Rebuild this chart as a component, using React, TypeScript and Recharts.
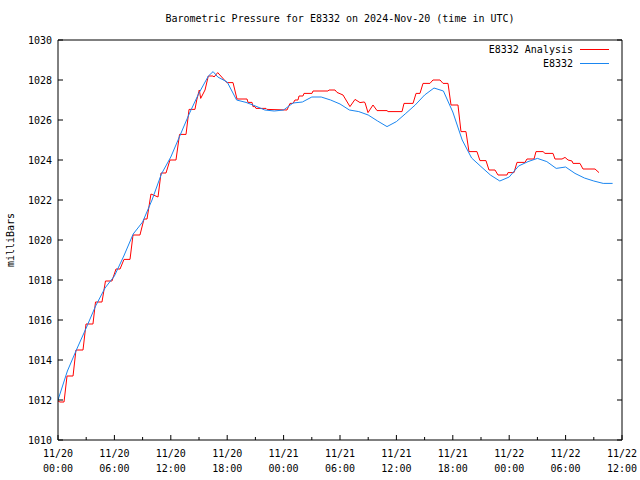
import { LineChart, Line, XAxis, YAxis, Legend, Label } from "recharts";

// hours since 2024-11-20 00:00 UTC
const analysisHours = [
  0, 0.21, 0.64, 0.96, 1.6, 1.91, 2.66, 2.98, 3.72, 3.99, 4.68, 5.05, 5.74, 6.17, 6.6, 7.02, 7.66, 7.98,
  8.72, 9.15, 9.47, 9.89, 10.64, 10.96, 11.49, 11.91, 12.55, 12.93, 13.62, 13.94, 14.57, 14.76, 15.03,
  15.18, 15.64, 15.99, 16.49, 16.6, 16.99, 17.95, 18.62, 19.04, 20.11, 20.21, 20.64, 20.74, 20.96, 21.06,
  22.13, 22.23, 24.36, 24.68, 25.0, 25.21, 25.53, 25.64, 26.06, 26.17, 27.02, 27.13, 28.72, 28.83, 29.47,
  29.68, 30.32, 31.06, 31.6, 32.13, 32.55, 32.66, 32.98, 33.51, 33.94, 35.0, 35.11, 36.6, 36.81, 37.77,
  38.09, 38.51, 38.83, 39.57, 39.89, 40.64, 40.96, 41.49, 41.81, 42.55, 42.87, 43.4, 43.72, 44.57, 44.89,
  45.53, 45.85, 46.49, 46.81, 47.77, 47.87, 48.51, 48.83, 49.68, 49.89, 50.64, 50.85, 51.6, 51.81, 52.66,
  52.87, 53.62, 53.94, 54.26, 54.68, 54.79, 55.53, 55.85, 56.81, 57.13, 57.55,
];
const analysisValues = [
  1011.95, 1011.9, 1011.9, 1013.2, 1013.2, 1014.5, 1014.5, 1015.8, 1015.8, 1016.9, 1016.9, 1017.95, 1017.95,
  1018.55, 1018.55, 1019.03, 1019.03, 1020.25, 1020.25, 1021.05, 1021.05, 1022.3, 1022.15, 1023.35, 1023.35,
  1024.0, 1024.0, 1025.28, 1025.28, 1026.53, 1026.53, 1027.0, 1027.5, 1027.08, 1027.5, 1028.2, 1028.2,
  1028.15, 1028.37, 1027.87, 1027.87, 1027.05, 1027.05, 1026.88, 1026.88, 1026.67, 1026.67, 1026.58,
  1026.58, 1026.53, 1026.5, 1026.83, 1026.83, 1027.0, 1027.0, 1027.2, 1027.2, 1027.33, 1027.33, 1027.45,
  1027.45, 1027.5, 1027.5, 1027.38, 1027.25, 1026.67, 1027.03, 1026.87, 1026.9, 1026.87, 1026.37, 1026.75,
  1026.47, 1026.47, 1026.42, 1026.42, 1026.83, 1026.83, 1027.33, 1027.33, 1027.83, 1027.83, 1028.0, 1028.0,
  1027.83, 1027.83, 1026.75, 1026.75, 1025.42, 1025.42, 1024.42, 1024.42, 1023.97, 1023.97, 1023.5, 1023.5,
  1023.25, 1023.25, 1023.37, 1023.37, 1023.88, 1023.88, 1024.05, 1024.05, 1024.42, 1024.42, 1024.33,
  1024.33, 1024.05, 1024.05, 1024.13, 1024.0, 1023.95, 1023.83, 1023.83, 1023.55, 1023.55, 1023.55, 1023.37,
];

const stationHours = [
  0, 1, 2, 3, 4, 5, 6, 7, 8, 9, 10, 11, 12, 13, 14, 15, 16, 16.5, 17, 18, 19, 20, 21, 22, 23, 24, 25, 26,
  27, 28, 29, 30, 31, 32, 33, 34, 35, 36, 37, 38, 39, 40, 41, 42, 43, 44, 45, 46, 47, 48, 49, 50, 51, 52,
  53, 54, 55, 56, 57, 58, 59,
];
const stationValues = [
  1012.0, 1013.45, 1014.55, 1015.6, 1016.7, 1017.6, 1018.2, 1019.2, 1020.3, 1020.9, 1022.0, 1023.3,
  1024.15, 1025.25, 1026.35, 1027.35, 1028.2, 1028.42, 1028.15, 1027.9, 1027.0, 1026.88, 1026.7, 1026.5,
  1026.45, 1026.5, 1026.85, 1026.9, 1027.15, 1027.15, 1027.0, 1026.8, 1026.5, 1026.42, 1026.25, 1025.95,
  1025.67, 1025.92, 1026.33, 1026.75, 1027.25, 1027.6, 1027.45, 1026.4, 1025.0, 1024.1, 1023.67, 1023.25,
  1022.95, 1023.15, 1023.7, 1023.92, 1024.08, 1023.92, 1023.58, 1023.65, 1023.33, 1023.1, 1022.95,
  1022.83, 1022.83,
];

const seriesNames = ["E8332 Analysis", "E8332"];
const seriesColors = ["#ff0000", "#1a86f0"];

const xTicks = [0, 3, 6, 9, 12, 15, 18, 21, 24, 27, 30, 33, 36, 39, 42, 45, 48, 51, 54, 57, 60];
const yTicks = [1010, 1012, 1014, 1016, 1018, 1020, 1022, 1024, 1026, 1028, 1030];

const analysis = analysisHours.map((t, i) => ({ t, p: analysisValues[i] }));
const station = stationHours.map((t, i) => ({ t, p: stationValues[i] }));

const FONT = "'DejaVu Sans Mono', 'Liberation Mono', monospace";
const pad = (n: number) => (n < 10 ? "0" + n : "" + n);

function BottomTick({ x, y, payload }: any) {
  const h = payload.value;
  const major = h % 6 === 0;
  return (
    <g>
      <line x1={x} x2={x} y1={y} y2={y - (major ? 5 : 3)} stroke="#000" />
      {major && (
        <text x={x} y={y + 17} textAnchor="middle" fontFamily={FONT} fontSize={10} fill="#000">
          {`11/${20 + Math.floor(h / 24)}`}
        </text>
      )}
      {major && (
        <text x={x} y={y + 32} textAnchor="middle" fontFamily={FONT} fontSize={10} fill="#000">
          {`${pad(h % 24)}:00`}
        </text>
      )}
    </g>
  );
}

function TopTick({ x, y, payload }: any) {
  const major = payload.value % 6 === 0;
  return <line x1={x} x2={x} y1={y} y2={y + (major ? 5 : 3)} stroke="#000" />;
}

function LeftTick({ x, y, payload }: any) {
  return (
    <g>
      <line x1={x} x2={x + 5} y1={y} y2={y} stroke="#000" />
      <text x={x - 6} y={y + 4} textAnchor="end" fontFamily={FONT} fontSize={10} fill="#000">
        {payload.value}
      </text>
    </g>
  );
}

function RightTick({ x, y }: any) {
  return <line x1={x} x2={x - 5} y1={y} y2={y} stroke="#000" />;
}

function renderLegend() {
  return (
    <div style={{ fontFamily: FONT, fontSize: 10, color: "#000" }}>
      {seriesNames.map((name, i) => (
        <div key={name} style={{ display: "flex", justifyContent: "flex-end", alignItems: "center", height: 14 }}>
          <span>{name}</span>
          <svg width={37} height={14} style={{ display: "block" }}>
            <line x1={7} x2={36} y1={7.5} y2={7.5} stroke={seriesColors[i]} />
          </svg>
        </div>
      ))}
    </div>
  );
}

export default function App() {
  return (
    <div style={{ position: "relative", width: 640, height: 480, background: "#fff" }}>
      <style>{`body { margin: 0; }`}</style>
      <div
        style={{
          position: "absolute",
          top: 13,
          left: 0,
          width: 680,
          textAlign: "center",
          fontFamily: FONT,
          fontSize: 10,
          color: "#000",
          whiteSpace: "pre",
        }}
      >
        Barometric Pressure for E8332 on 2024-Nov-20 (time in UTC)
      </div>
      <LineChart width={640} height={480} margin={{ top: 0, right: 0, bottom: 0, left: 0 }}>
        <XAxis
          dataKey="t"
          type="number"
          domain={[0, 60]}
          ticks={xTicks}
          interval={0}
          height={40}
          tickSize={0}
          tickMargin={0}
          tickLine={false}
          axisLine={{ stroke: "#000" }}
          tick={<BottomTick />}
          allowDataOverflow
        />
        <XAxis
          xAxisId="top"
          orientation="top"
          type="number"
          domain={[0, 60]}
          ticks={xTicks}
          interval={0}
          height={40}
          tickSize={0}
          tickMargin={0}
          tickLine={false}
          axisLine={{ stroke: "#000" }}
          tick={<TopTick />}
          allowDataOverflow
        />
        <YAxis
          type="number"
          domain={[1010, 1030]}
          ticks={yTicks}
          interval={0}
          width={58}
          tickSize={0}
          tickMargin={0}
          tickLine={false}
          axisLine={{ stroke: "#000" }}
          tick={<LeftTick />}
          allowDataOverflow
        >
          <Label
            content={({ viewBox }: any) => {
              const cx = 10;
              const cy = viewBox.y + viewBox.height / 2;
              return (
                <text
                  x={cx}
                  y={cy}
                  transform={`rotate(-90, ${cx}, ${cy})`}
                  textAnchor="middle"
                  dominantBaseline="central"
                  fontFamily={FONT}
                  fontSize={10}
                  fill="#000"
                >
                  milliBars
                </text>
              );
            }}
          />
        </YAxis>
        <YAxis
          yAxisId="right"
          orientation="right"
          type="number"
          domain={[1010, 1030]}
          ticks={yTicks}
          interval={0}
          width={18}
          tickSize={0}
          tickMargin={0}
          tickLine={false}
          axisLine={{ stroke: "#000" }}
          tick={<RightTick />}
          allowDataOverflow
        />
        <Legend
          layout="horizontal"
          align="center"
          verticalAlign="middle"
          wrapperStyle={{ top: 42, left: "auto", right: 30, width: "auto", height: "auto" }}
          content={renderLegend}
        />
        <Line
          data={analysis}
          dataKey="p"
          name={seriesNames[0]}
          type="linear"
          stroke={seriesColors[0]}
          strokeWidth={1}
          dot={false}
          activeDot={false}
          isAnimationActive={false}
        />
        <Line
          data={station}
          dataKey="p"
          name={seriesNames[1]}
          type="linear"
          stroke={seriesColors[1]}
          strokeWidth={1}
          dot={false}
          activeDot={false}
          isAnimationActive={false}
        />
      </LineChart>
    </div>
  );
}
